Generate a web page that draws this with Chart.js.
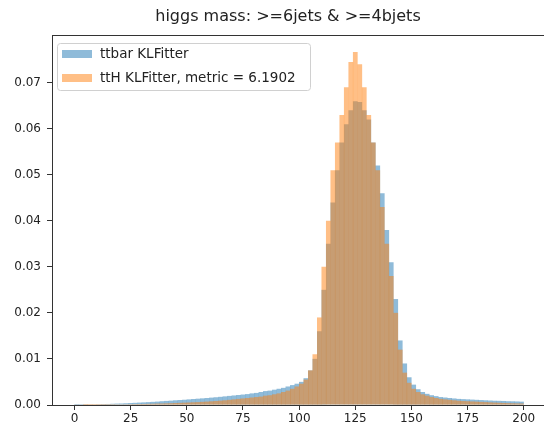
<!DOCTYPE html>
<html>
<head>
<meta charset="utf-8">
<script src="https://cdn.jsdelivr.net/npm/chart.js@4.4.1/dist/chart.umd.min.js"></script>
<style>
  html, body { margin: 0; padding: 0; background: #fff; }
  #wrap { width: 544px; height: 428px; }
</style>
</head>
<body>
<div id="wrap"><canvas id="Chart1"></canvas></div>
<script>
// bin centres, bins of width 2 from 0 to 200
var binCenters = [];
for (var i = 0; i < 100; i++) binCenters.push(2 * i + 1);

var ttbarValues = [
  0.00003, 0.00005, 0.00008, 0.0001, 0.00012, 0.00015, 0.00018, 0.0002, 0.00024, 0.00028,
  0.0003, 0.00035, 0.0004, 0.00045, 0.0005, 0.00055, 0.0006, 0.00066, 0.00072, 0.0008,
  0.00086, 0.00092, 0.001, 0.00106, 0.00112, 0.0012, 0.00128, 0.00135, 0.00142, 0.0015,
  0.00158, 0.00166, 0.00175, 0.00185, 0.00195, 0.00205, 0.00215, 0.00225, 0.00235, 0.0025,
  0.0026, 0.0028, 0.003, 0.0031, 0.0033, 0.0035, 0.0037, 0.004, 0.0043, 0.0046,
  0.005, 0.0058, 0.0075, 0.010, 0.016, 0.025, 0.035, 0.044, 0.051, 0.057,
  0.061, 0.064, 0.066, 0.0658, 0.064, 0.062, 0.057, 0.052, 0.046, 0.038,
  0.031, 0.023, 0.014, 0.009, 0.006, 0.0044, 0.0034, 0.0028, 0.0024, 0.0021,
  0.0019, 0.0017, 0.0016, 0.0015, 0.0014, 0.0013, 0.00125, 0.0012, 0.00115, 0.0011,
  0.00105, 0.001, 0.00095, 0.0009, 0.00088, 0.00085, 0.0008, 0.00078, 0.00075, 0.0007
];

var tthValues = [
  0, 0, 0.00002, 0.00003, 0.00004, 0.00005, 0.00006, 0.00007, 0.00008, 0.0001,
  0.00011, 0.00012, 0.00014, 0.00016, 0.00018, 0.0002, 0.00022, 0.00025, 0.00028, 0.0003,
  0.00033, 0.00036, 0.0004, 0.00044, 0.00048, 0.00052, 0.00056, 0.0006, 0.00066, 0.00072,
  0.00078, 0.00085, 0.00092, 0.001, 0.0011, 0.0012, 0.0013, 0.0014, 0.0015, 0.0016,
  0.0017, 0.0018, 0.002, 0.0021, 0.0023, 0.0025, 0.0028, 0.0031, 0.0035, 0.004,
  0.0046, 0.0055, 0.0075, 0.011, 0.019, 0.030, 0.040, 0.051, 0.057, 0.063,
  0.069, 0.0745, 0.0767, 0.074, 0.069, 0.063, 0.057, 0.051, 0.043, 0.035,
  0.028, 0.020, 0.012, 0.007, 0.0048, 0.0035, 0.0028, 0.0023, 0.002, 0.0017,
  0.0015, 0.0013, 0.0012, 0.0011, 0.001, 0.0009, 0.00085, 0.0008, 0.00075, 0.0007,
  0.00065, 0.0006, 0.00055, 0.0005, 0.00046, 0.00042, 0.00038, 0.00035, 0.00032, 0.0003
];

var xTickValues = [0, 25, 50, 75, 100, 125, 150, 175, 200];
var yTickValues = [0, 0.01, 0.02, 0.03, 0.04, 0.05, 0.06, 0.07];

var titleText = 'higgs mass: >=6jets & >=4bjets';
var legendLabels = ['ttbar KLFitter', 'ttH KLFitter, metric = 6.1902'];
var blueFill = 'rgba(31, 119, 180, 0.5)';
var orangeFill = 'rgba(255, 127, 14, 0.5)';

function toPoints(values) {
  return values.map(function (v, i) { return { x: binCenters[i], y: v }; });
}

// title, top spine and legend box (matplotlib style)
var framePlugin = {
  id: 'frame',
  afterDraw: function (chart) {
    var ctx = chart.ctx;
    var area = chart.chartArea;
    ctx.save();
    ctx.fillStyle = '#222';
    ctx.font = '16px "DejaVu Sans"';
    ctx.textAlign = 'center';
    ctx.textBaseline = 'middle';
    ctx.fillText(titleText, 288, 17);

    ctx.strokeStyle = '#333';
    ctx.lineWidth = 1;
    ctx.beginPath();
    ctx.moveTo(area.left, area.top + 0.5);
    ctx.lineTo(area.right, area.top + 0.5);
    ctx.stroke();

    var bx = area.left + 5, by = area.top + 8, bw = 253, bh = 47;
    ctx.fillStyle = 'rgba(255,255,255,0.8)';
    ctx.strokeStyle = '#d0d0d0';
    ctx.beginPath();
    ctx.roundRect(bx + 0.5, by + 0.5, bw, bh, 3);
    ctx.fill();
    ctx.stroke();

    var fills = [blueFill, orangeFill];
    ctx.font = '13.5px "DejaVu Sans"';
    ctx.textAlign = 'left';
    for (var i = 0; i < legendLabels.length; i++) {
      var cy = by + 11 + i * 24;
      ctx.fillStyle = fills[i];
      ctx.fillRect(bx + 5, cy - 4, 30, 8);
      ctx.fillStyle = '#222';
      ctx.fillText(legendLabels[i], bx + 43, cy);
    }
    ctx.restore();
  }
};

var ctx = document.getElementById('Chart1').getContext('2d');
var Chart1 = new Chart(ctx, {
  type: 'bar',
  data: {
    datasets: [{
      label: legendLabels[0],
      data: toPoints(ttbarValues),
      backgroundColor: blueFill,
      borderWidth: 0,
      order: 1
    }, {
      label: legendLabels[1],
      data: toPoints(tthValues),
      backgroundColor: orangeFill,
      borderWidth: 0,
      order: 0
    }]
  },
  plugins: [framePlugin],
  options: {
    responsive: true,
    maintainAspectRatio: false,
    animation: false,
    layout: { padding: { left: 0, right: 0, top: 35, bottom: 0 } },
    datasets: {
      bar: { grouped: false, barPercentage: 1, categoryPercentage: 1, inflateAmount: 0.12 }
    },
    plugins: {
      legend: { display: false },
      tooltip: { enabled: false },
      title: { display: false }
    },
    scales: {
      x: {
        type: 'linear',
        offset: false,
        min: -10,
        max: 209,
        afterBuildTicks: function (scale) {
          scale.ticks = xTickValues.map(function (v) { return { value: v }; });
        },
        afterFit: function (scale) { scale.height = 23; },
        grid: { display: true, offset: false, drawOnChartArea: false, tickLength: 5, color: '#333' },
        border: { display: true, color: '#333', width: 1 },
        ticks: {
          color: '#222',
          padding: 2,
          maxRotation: 0,
          font: { family: 'DejaVu Sans', size: 12 },
          callback: function (v) { return String(v); }
        }
      },
      y: {
        min: 0,
        max: 0.0804,
        afterBuildTicks: function (scale) {
          scale.ticks = yTickValues.map(function (v) { return { value: v }; });
        },
        afterFit: function (scale) { scale.width = 52; },
        grid: { display: true, drawOnChartArea: false, tickLength: 5, color: '#333' },
        border: { display: true, color: '#333', width: 1 },
        ticks: {
          color: '#222',
          padding: 6,
          font: { family: 'DejaVu Sans', size: 12 },
          callback: function (v) { return Number(v).toFixed(2); }
        }
      }
    }
  }
});
</script>
</body>
</html>
